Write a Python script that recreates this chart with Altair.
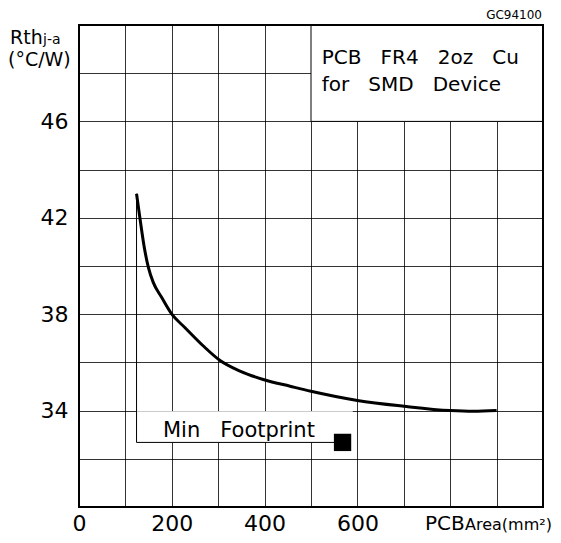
import altair as alt
import pandas as pd

# ---- data ----
area = [124, 131.5, 140, 149.5, 160, 178, 200, 228, 268, 304, 347, 397, 455, 500, 600, 700, 800, 850, 900]
rth = [43.0, 41.96, 40.85, 39.94, 39.32, 38.70, 38.0, 37.45, 36.68, 36.08, 35.64, 35.29, 35.01, 34.80, 34.42, 34.18, 34.0, 33.97, 34.0]

x_grid = list(range(0, 1001, 100))
y_grid = list(range(30, 51, 2))
x_labels = [0, 200, 400, 600]
y_labels = [34, 38, 42, 46]

GAP = " \u00a0\u00a0"
legend_lines = GAP.join(["PCB", "FR4", "2oz", "Cu"]), GAP.join(["for", "SMD", "Device"])
legend_y = [48.375, 47.25]
legend_x = [523, 523]
legend_box = {"x": [500], "x2": [1000], "y": [46], "y2": [50]}

fp_area = [124]          # min footprint area
fp_top = [43.0]
fp_level = [32.68]
fp_line_end = [550]
fp_square_x = [568]
fp_box_right = [590]
fp_text = [GAP.join(["Min", "Footprint"])]
fp_text_x = [181]
fp_text_y = [32.92]

W, H = 464, 482
FONT = "DejaVu Sans"
xs = alt.Scale(domain=[0, 1000], nice=False, zero=False)
ys = alt.Scale(domain=[30, 50], nice=False, zero=False)

x_axis = alt.Axis(values=x_grid, grid=True, ticks=False, domain=False,
                  labelExpr=f"indexof({x_labels}, datum.value) >= 0 ? datum.label : ''",
                  labelFontSize=22, labelPadding=6, labelFlush=False, labelOverlap=False,
                  labelFont=FONT, labelColor="black", title=None,
                  gridColor="black", gridOpacity=0.8, gridWidth=1)
y_axis = alt.Axis(values=y_grid, grid=True, ticks=False, domain=False,
                  labelExpr=f"indexof({y_labels}, datum.value) >= 0 ? datum.label : ''",
                  labelFontSize=22, labelPadding=11, labelFlush=False, labelOverlap=False,
                  labelFont=FONT, labelColor="black", title=None,
                  gridColor="black", gridOpacity=0.8, gridWidth=1)


def X(f):
    return alt.X(f, scale=xs, axis=x_axis, title=None)


def Y(f):
    return alt.Y(f, scale=ys, axis=y_axis, title=None)


curve_df = pd.DataFrame({"area": area, "rth": rth})

curve = alt.Chart(curve_df).mark_line(color="black", strokeWidth=3, interpolate="monotone").encode(
    x=X("area:Q"), y=Y("rth:Q"),
)

# legend box (white, covering grid)
lb = alt.Chart(pd.DataFrame(legend_box)).mark_rect(fill="white", stroke="black", strokeWidth=1).encode(
    x=X("x:Q"), x2="x2:Q", y=Y("y:Q"), y2="y2:Q",
)
lt = alt.Chart(pd.DataFrame({"t": list(legend_lines), "x": legend_x, "y": legend_y})).mark_text(
    font=FONT, fontSize=20, align="left", baseline="alphabetic", color="black"
).encode(x=X("x:Q"), y=Y("y:Q"), text="t:N")

# min footprint annotation
fp_df = pd.DataFrame({"x": fp_area, "top": fp_top, "lvl": fp_level, "xe": fp_line_end,
                      "sq": fp_square_x, "xr": fp_box_right})
fp_white = alt.Chart(fp_df).transform_calculate(ytop="33.97").mark_rect(fill="white").encode(
    x=X("x:Q"), x2="xr:Q", y=Y("lvl:Q"), y2="ytop:Q",
)
fp_v = alt.Chart(fp_df).mark_rule(color="black", strokeWidth=1).encode(
    x=X("x:Q"), y=Y("top:Q"), y2="lvl:Q",
)
fp_h = alt.Chart(fp_df).mark_rule(color="black", strokeWidth=1).encode(
    x=X("x:Q"), x2="xe:Q", y=Y("lvl:Q"),
)
fp_sq = alt.Chart(fp_df).mark_square(size=300, color="black", opacity=1, filled=True).encode(
    x=X("sq:Q"), y=Y("lvl:Q"),
)
fp_t = alt.Chart(pd.DataFrame({"t": fp_text, "x": fp_text_x, "y": fp_text_y})).mark_text(
    font=FONT, fontSize=21, align="left", baseline="alphabetic", color="black"
).encode(x=X("x:Q"), y=Y("y:Q"), text="t:N")


def label(txt, px, py, size, align="left"):
    return alt.Chart(pd.DataFrame({"t": [txt]})).mark_text(
        font=FONT, fontSize=size, align=align, baseline="alphabetic", color="black"
    ).encode(x=alt.value(px), y=alt.value(py), text="t:N")


titles = [
    label("Rth", -69, 19, 19),
    label("j-a", -36, 19, 14),
    label("(°C/W)", -71, 41, 19),
    label("PCB", 346, 505, 20),
    label("Area(mm²)", 386, 505, 16),
    label("GC94100", 463, -6, 12, align="right"),
]

border = alt.Chart(pd.DataFrame({"a": [0]})).mark_rect(filled=False, stroke="black", strokeWidth=2).encode(
    x=alt.value(0), x2=alt.value(W), y=alt.value(0), y2=alt.value(H)
)

chart = alt.layer(
    curve, lb, lt, fp_white, fp_v, fp_h, fp_sq, fp_t, *titles, border
).properties(
    width=W, height=H,
    padding={"left": 71, "top": 17, "right": 10, "bottom": 28},
    autosize=alt.AutoSizeParams(type="none"),
    background="white",
).configure_view(stroke=None)

chart.save("out.html", embed_options={"renderer": "svg", "actions": False})
